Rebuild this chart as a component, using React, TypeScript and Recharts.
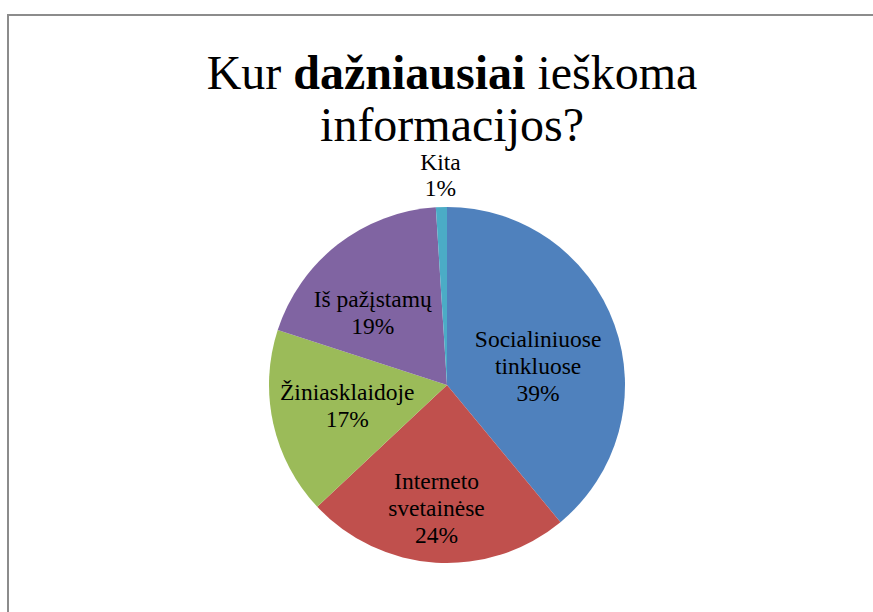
import { PieChart, Pie, Cell } from "recharts";

const CATEGORIES = ["Socialiniuose tinkluose", "Interneto svetainėse", "Žiniasklaidoje", "Iš pažįstamų", "Kita"];
const VALUES = [39, 24, 17, 19, 1];
const COLORS = ["#4F81BD", "#C0504D", "#9BBB59", "#8064A2", "#4BACC6"];

// small hand nudges so labels sit where the office chart put them
const LABEL_NUDGE = [
  [-6, 16],
  [-4, 20],
  [1, -2],
  [-11, 9],
  [0, 0],
];

const DATA = CATEGORIES.map((name, i) => ({ name, value: VALUES[i] }));

const FONT = "'Times New Roman', 'Liberation Serif', serif";
const RADIAN = Math.PI / 180;

function renderLabel(props: any) {
  const { cx, cy, midAngle, outerRadius, percent, index, name } = props;
  const outside = percent < 0.05;
  const r = outside ? outerRadius + 32 : outerRadius * 0.58;
  const [nx, ny] = LABEL_NUDGE[index] || [0, 0];
  const x = cx + r * Math.cos(-midAngle * RADIAN) + nx;
  const y = cy + r * Math.sin(-midAngle * RADIAN) + ny;
  const words: string[] = name.length > 14 ? name.split(" ") : [name];
  const lines = [...words, `${Math.round(percent * 100)}%`];
  const lh = 26.6;
  const first = y - ((lines.length - 1) * lh) / 2 + 8;
  return (
    <g key={`lbl-${index}`}>
      {lines.map((l, i) => (
        <text
          key={i}
          x={x}
          y={first + i * lh}
          textAnchor="middle"
          fill="#000"
          fontFamily={FONT}
          fontSize={23.5}
        >
          {l}
        </text>
      ))}
    </g>
  );
}

export default function App() {
  return (
    <div
      style={{
        position: "absolute",
        left: 0,
        top: 0,
        width: 873,
        height: 612,
        overflow: "hidden",
        background: "#fff",
        fontFamily: FONT,
      }}
    >
      <div
        style={{
          position: "absolute",
          left: 7,
          top: 14,
          width: 900,
          height: 700,
          borderLeft: "2px solid #8c8c8c",
          borderTop: "2px solid #8c8c8c",
        }}
      />
      <div
        style={{
          position: "absolute",
          left: 0,
          top: 47,
          width: 904,
          textAlign: "center",
          fontFamily: FONT,
          fontSize: 48,
          lineHeight: "52px",
          color: "#000",
        }}
      >
        Kur <b>dažniausiai</b> ieškoma
        <br />
        informacijos?
      </div>
      <PieChart width={873} height={612} margin={{ top: 0, right: 0, bottom: 0, left: 0 }} style={{ position: "absolute", left: 0, top: 0 }}>
        <Pie
          data={DATA}
          dataKey="value"
          nameKey="name"
          cx={447}
          cy={385}
          outerRadius={178}
          startAngle={90}
          endAngle={-270}
          stroke="none"
          label={renderLabel}
          labelLine={false}
          isAnimationActive={false}
        >
          {DATA.map((d, i) => (
            <Cell key={d.name} fill={COLORS[i]} />
          ))}
        </Pie>
      </PieChart>
    </div>
  );
}
